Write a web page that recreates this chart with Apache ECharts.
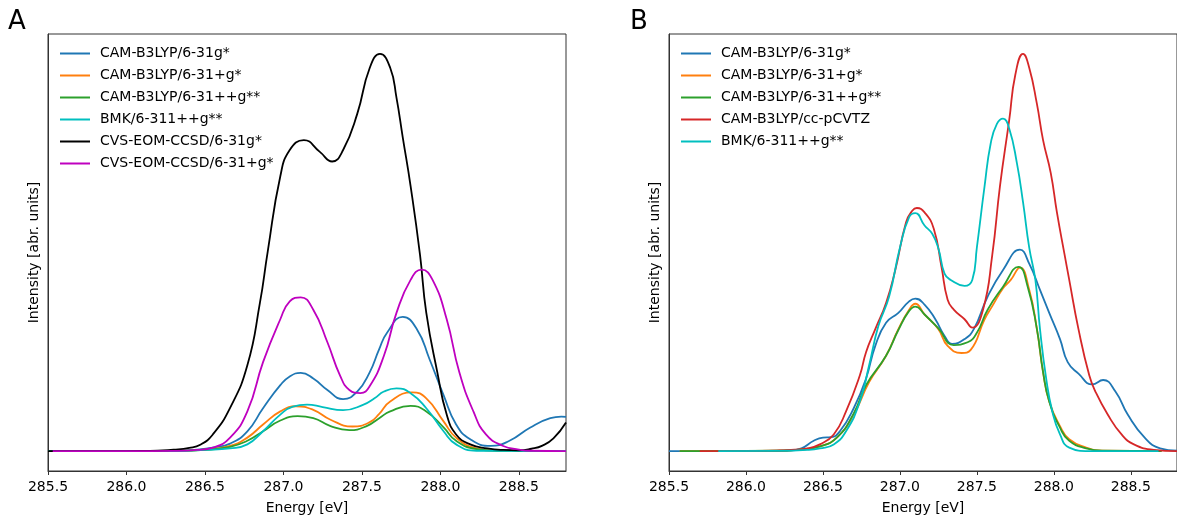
<!DOCTYPE html>
<html>
<head>
<meta charset="utf-8">
<script src="https://cdn.jsdelivr.net/npm/echarts@6/dist/echarts.min.js"></script>
<style>
html,body{margin:0;padding:0;background:#fff;}
#chart{width:1177px;height:520px;}
</style>
</head>
<body>
<div id="chart"></div>
<script>
// ---------- Panel A data (energy in eV, intensity in arbitrary units) ----------
const aBlueE = [285.5, 286.0, 286.3, 286.45, 286.55, 286.66, 286.77, 286.87, 286.98, 287.04, 287.11, 287.19, 287.28, 287.38, 287.47, 287.55, 287.61, 287.66, 287.76, 287.85, 287.93, 288.02, 288.10, 288.19, 288.32, 288.44, 288.57, 288.70, 288.77, 288.8];
const aBlueV = [0, 0, 0.05, 0.4, 0.9, 1.9, 5, 10.8, 16.6, 18.8, 19.7, 18.3, 15.4, 13.1, 15, 19.9, 25.7, 29.8, 33.8, 30.7, 23.2, 14.1, 6.7, 3, 1.3, 2.6, 5.9, 8.3, 8.7, 8.6];

const aOrangeE = [285.5, 286.0, 286.3, 286.5, 286.66, 286.77, 286.87, 286.98, 287.08, 287.19, 287.30, 287.44, 287.55, 287.61, 287.68, 287.82, 287.91, 288.02, 288.10, 288.23, 288.36, 288.8];
const aOrangeV = [0, 0, 0.05, 0.4, 1.3, 3.4, 6.7, 10, 11.3, 10.4, 7.9, 6.2, 7.3, 9.4, 12.5, 14.8, 13.3, 7.5, 3.4, 0.7, 0.1, 0];

const aGreenE = [285.5, 286.0, 286.3, 286.5, 286.66, 286.77, 286.87, 286.98, 287.09, 287.19, 287.30, 287.42, 287.53, 287.61, 287.68, 287.81, 287.91, 288.02, 288.10, 288.23, 288.36, 288.8];
const aGreenV = [0, 0, 0.05, 0.35, 1.1, 2.6, 5, 7.7, 8.8, 8.3, 6.3, 5.3, 6.3, 8.3, 10, 11.4, 10, 6, 2.6, 0.5, 0.1, 0];

const aCyanE = [285.5, 286.0, 286.3, 286.5, 286.66, 286.77, 286.87, 286.98, 287.06, 287.15, 287.25, 287.38, 287.51, 287.58, 287.64, 287.72, 287.81, 287.91, 288.02, 288.10, 288.23, 288.8];
const aCyanV = [0, 0, 0.03, 0.3, 0.7, 1.7, 5, 9.2, 11.2, 11.7, 11.1, 10.3, 11.7, 13.3, 15, 15.8, 14.6, 10.8, 5, 1.7, 0.1, 0];

const aBlackE = [285.5, 285.9, 286.1, 286.2, 286.3, 286.4, 286.47, 286.55, 286.66, 286.77, 286.85, 286.90, 286.98, 287.04, 287.13, 287.23, 287.31, 287.38, 287.47, 287.55, 287.615, 287.68, 287.72, 287.76, 287.81, 287.87, 287.91, 287.98, 288.04, 288.10, 288.19, 288.3, 288.4, 288.5, 288.58, 288.65, 288.72, 288.8];
const aBlackV = [0, 0, 0.05, 0.15, 0.35, 0.8, 1.6, 4.2, 10.9, 21.6, 37.3, 50.3, 69.2, 75.8, 78.3, 75.4, 72.9, 75.8, 84.9, 96.5, 100, 96.5, 89, 79, 66.7, 49.4, 34.8, 19.9, 9.2, 4.2, 1.7, 0.7, 0.3, 0.2, 0.6, 1.4, 3.2, 7.2];

const aMagentaE = [285.53, 286.0, 286.3, 286.45, 286.55, 286.66, 286.77, 286.87, 286.98, 287.04, 287.11, 287.19, 287.28, 287.36, 287.42, 287.49, 287.55, 287.64, 287.72, 287.81, 287.88, 287.95, 288.04, 288.12, 288.21, 288.29, 288.40, 288.5, 288.57, 288.8];
const aMagentaV = [0, 0, 0.05, 0.3, 0.9, 3.4, 10, 22.4, 33.2, 37.7, 38.7, 35.6, 27.4, 19.1, 15.4, 14.6, 16.4, 24, 34.8, 43.1, 45.7, 43.1, 33.2, 19.9, 10, 4.2, 1.3, 0.4, 0.1, 0];

// ---------- Panel B data ----------
const bBlueE = [285.5, 286.0, 286.27, 286.36, 286.44, 286.50, 286.55, 286.61, 286.70, 286.78, 286.84, 286.91, 286.99, 287.06, 287.10, 287.16, 287.23, 287.29, 287.34, 287.42, 287.48, 287.57, 287.67, 287.78, 287.84, 287.91, 287.97, 288.04, 288.09, 288.16, 288.25, 288.32, 288.40, 288.48, 288.59, 288.69, 288.8];
const bBlueV = [0, 0, 0.1, 0.7, 2.6, 3.4, 3.5, 5, 10.8, 18.3, 26.5, 32.3, 34.8, 37.7, 38.4, 36.9, 33.2, 29, 27, 28.2, 30.7, 38.9, 45.6, 50.7, 47.2, 40.6, 34.8, 28.2, 22.4, 19.5, 16.8, 17.9, 15, 9.2, 3.4, 0.7, 0.1];

const bOrangeE = [285.57, 285.9, 286.2, 286.35, 286.48, 286.59, 286.70, 286.80, 286.91, 286.99, 287.06, 287.10, 287.16, 287.25, 287.31, 287.40, 287.46, 287.55, 287.60, 287.67, 287.72, 287.78, 287.84, 287.89, 287.93, 287.97, 288.04, 288.10, 288.21, 288.32, 288.7];
const bOrangeV = [0, 0, 0.1, 0.4, 1.2, 3.4, 9.2, 17.4, 24, 30.7, 35.6, 37.1, 34.4, 30.7, 26.5, 24.7, 25.5, 33.2, 36.5, 41, 43.1, 46.2, 40.6, 30.7, 19.9, 12.5, 6.3, 3, 0.9, 0.1, 0];

const bGreenE = [285.57, 285.8, 286.2, 286.35, 286.48, 286.59, 286.70, 286.78, 286.91, 286.99, 287.06, 287.10, 287.16, 287.25, 287.35, 287.44, 287.50, 287.57, 287.67, 287.77, 287.83, 287.89, 287.93, 287.97, 288.04, 288.10, 288.21, 288.32, 288.7];
const bGreenV = [0, 0, 0.1, 0.4, 1.2, 3.4, 9.5, 16.6, 24, 30.5, 35.3, 36.4, 34.4, 30.9, 26.7, 27.4, 29.8, 35.6, 41.4, 46.4, 41.4, 30.7, 19.9, 12.5, 5.9, 2.6, 0.7, 0.1, 0];

const bRedE = [285.70, 286.0, 286.2, 286.27, 286.40, 286.48, 286.57, 286.65, 286.74, 286.78, 286.84, 286.91, 286.97, 287.04, 287.08, 287.11, 287.16, 287.22, 287.27, 287.31, 287.35, 287.42, 287.47, 287.54, 287.60, 287.65, 287.71, 287.75, 287.80, 287.84, 287.89, 287.93, 287.98, 288.02, 288.07, 288.10, 288.16, 288.23, 288.27, 288.35, 288.44, 288.52, 288.65, 288.8];
const bRedV = [0, 0.05, 0.15, 0.25, 0.7, 1.7, 4.2, 10, 19.1, 24.9, 30.7, 37.3, 45.6, 57.6, 60.5, 61.2, 60.1, 56, 46.4, 38.1, 35.6, 33.2, 31.1, 35.6, 49.4, 66.7, 83.3, 94.8, 100, 96.5, 87.4, 78.3, 70, 60.1, 49.4, 43.1, 30.7, 19.1, 15, 9.2, 4.2, 1.7, 0.3, 0];

const bCyanE = [285.82, 286.2, 286.4, 286.48, 286.57, 286.65, 286.74, 286.80, 286.86, 286.93, 287.00, 287.06, 287.10, 287.16, 287.21, 287.25, 287.29, 287.33, 287.42, 287.47, 287.50, 287.55, 287.59, 287.63, 287.67, 287.71, 287.76, 287.80, 287.84, 287.88, 287.91, 287.95, 287.99, 288.04, 288.10, 288.23, 288.68];
const bCyanV = [0, 0.05, 0.3, 0.7, 1.7, 5, 12.5, 21.6, 31.5, 38.9, 51.2, 58.9, 59.9, 56.8, 54.7, 51, 44.7, 43.1, 41.6, 43.1, 51.3, 66.7, 77.5, 82.4, 83.7, 81.2, 72.5, 62.6, 51.2, 43.1, 30.7, 18.3, 10, 4.2, 0.9, 0, 0];

// ---------- names / colours ----------
const namesA = ['CAM-B3LYP/6-31g*', 'CAM-B3LYP/6-31+g*', 'CAM-B3LYP/6-31++g**', 'BMK/6-311++g**', 'CVS-EOM-CCSD/6-31g*', 'CVS-EOM-CCSD/6-31+g*'];
const namesB = ['CAM-B3LYP/6-31g*', 'CAM-B3LYP/6-31+g*', 'CAM-B3LYP/6-31++g**', 'CAM-B3LYP/cc-pCVTZ', 'BMK/6-311++g**'];
const colorsA = ['#1f77b4', '#ff7f0e', '#2ca02c', '#00bfbf', '#000000', '#bf00bf'];
const colorsB = ['#1f77b4', '#ff7f0e', '#2ca02c', '#d62728', '#00bfbf'];
const xTickStep = 0.5;
const xMin = 285.5, xMax = 288.8;

function zip(e, v) { return e.map((x, i) => [x, v[i]]); }

const seriesA = [[aBlueE, aBlueV], [aOrangeE, aOrangeV], [aGreenE, aGreenV], [aCyanE, aCyanV], [aBlackE, aBlackV], [aMagentaE, aMagentaV]];
const seriesB = [[bBlueE, bBlueV], [bOrangeE, bOrangeV], [bGreenE, bGreenV], [bRedE, bRedV], [bCyanE, bCyanV]];

const FONT = 'DejaVu Sans';
function mkSeries(list, names, colors, idx) {
  return list.map((p, i) => ({
    type: 'line', name: names[i], xAxisIndex: idx, yAxisIndex: idx,
    data: zip(p[0], p[1]), showSymbol: false, symbol: 'none',
    smooth: 0.5,
    lineStyle: { width: 1.8, color: colors[i] }, itemStyle: { color: colors[i] },
    clip: true, z: 2 + i
  }));
}
function mkX(idx) {
  return {
    type: 'value', gridIndex: idx, min: xMin, max: xMax, interval: xTickStep,
    name: 'Energy [eV]', nameLocation: 'middle', nameGap: 30,
    nameTextStyle: { fontFamily: FONT, fontSize: 14, color: '#000' },
    axisLine: { show: true, onZero: false, lineStyle: { color: '#333', width: 1 } },
    axisTick: { show: true, inside: false, length: 4, lineStyle: { color: '#333' } },
    axisLabel: { show: true, margin: 9, fontFamily: FONT, fontSize: 14, color: '#000',
      showMaxLabel: false, formatter: v => v.toFixed(1) },
    splitLine: { show: false }
  };
}
function mkY(idx) {
  return {
    type: 'value', gridIndex: idx, min: -5, max: 105,
    name: 'Intensity [abr. units]', nameLocation: 'middle', nameGap: 7,
    nameTextStyle: { fontFamily: FONT, fontSize: 14, color: '#000' },
    axisLine: { show: true, lineStyle: { color: '#333', width: 1 } },
    axisTick: { show: false }, axisLabel: { show: false }, splitLine: { show: false }
  };
}
function mkLegend(names, left) {
  return {
    data: names, orient: 'vertical', left: left, top: 41,
    icon: 'rect', itemWidth: 30, itemHeight: 2, itemGap: 7,
    selectedMode: false,
    textStyle: { fontFamily: FONT, fontSize: 14, color: '#000', lineHeight: 15, padding: [0, 0, 0, 5] }
  };
}

const chart = echarts.init(document.getElementById('chart'), null, { renderer: 'canvas' });
chart.setOption({
  animation: false,
  backgroundColor: '#fff',
  title: [
    { text: 'A', left: 3, top: 4, textStyle: { fontFamily: FONT, fontSize: 26, fontWeight: 'normal', color: '#000' } },
    { text: 'B', left: 625, top: 4, textStyle: { fontFamily: FONT, fontSize: 26, fontWeight: 'normal', color: '#000' } }
  ],
  grid: [
    { left: 48, right: 611, top: 34, bottom: 43, show: true, borderColor: '#333', borderWidth: 1, containLabel: false },
    { left: 669, right: -11, top: 34, bottom: 43, show: true, borderColor: '#333', borderWidth: 1, containLabel: false }
  ],
  xAxis: [mkX(0), mkX(1)],
  yAxis: [mkY(0), mkY(1)],
  legend: [mkLegend(namesA, 55), mkLegend(namesB, 676)],
  series: mkSeries(seriesA, namesA, colorsA, 0).concat(mkSeries(seriesB, namesB, colorsB, 1))
});
</script>
</body>
</html>
